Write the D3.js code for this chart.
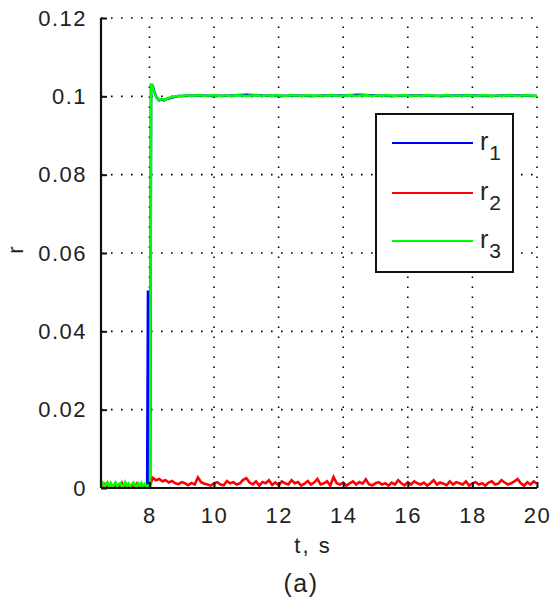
<!DOCTYPE html>
<html>
<head>
<meta charset="utf-8">
<script src="https://cdn.jsdelivr.net/npm/d3@7"></script>
<style>
  html, body { margin: 0; padding: 0; background: #fff; }
  svg { display: block; }
  text { font-family: "Liberation Sans", Arial, sans-serif; fill: #222; }
</style>
</head>
<body>
<svg id="chart" width="552" height="605"></svg>
<script>
// ---- data ----------------------------------------------------------
// axis ticks
const xTicks = [8, 10, 12, 14, 16, 18, 20];
const yTicks = [0, 0.02, 0.04, 0.06, 0.08, 0.1, 0.12];
const yTickLabels = ["0", "0.02", "0.04", "0.06", "0.08", "0.1", "0.12"];

// legend entries
const seriesNames = ["1", "2", "3"];
const seriesColors = ["#0000ff", "#ff0000", "#00ff00"];

// quiet segment, 6.5 s .. 7.9 s every 0.05 s (units of 1e-4)
const r1Quiet = [1,0,1,2,0,0,1,3,1,0,2,0,1,0,1,0,2,1,0,1,3,0,1,0,2,1,0,1,0];
const r2Quiet = [3,0,9,1,4,0,11,2,3,6,0,5,1,12,2,0,7,1,4,8,0,3,10,1,4,0,6,2,1];
const r3Quiet = [7,13,3,10,15,5,11,2,8,14,4,10,12,3,7,15,5,11,4,9,14,6,3,12,5,13,4,10,6];

// step response around t = 8 s: [t, r]
const r1Step = [[7.93,0.0002],[7.955,0.0504],[7.975,0.0003],[8.02,0.0003],[8.05,0.1028],
  [8.10,0.1027],[8.15,0.1012],[8.22,0.0997],[8.30,0.0990],[8.38,0.0992],[8.46,0.0990],
  [8.55,0.0994],[8.65,0.0996],[8.80,0.0999],[8.90,0.1001]];
const r3Step = [[7.95,0.0006],[8.02,0.0004],[8.05,0.1030],[8.08,0.1030],[8.12,0.1018],
  [8.18,0.1003],[8.25,0.0994],[8.32,0.0991],[8.40,0.0993],[8.48,0.0991],[8.56,0.0995],
  [8.64,0.0997],[8.75,0.0999],[8.90,0.1001]];

// r2 from 8.0 s to 20.0 s every 0.1 s (units of 1e-4)
const r2Tail = [3,26,20,23,17,20,14,18,12,10,
  15,12,7,13,9,27,15,11,9,6,
  12,15,9,7,18,12,15,9,12,21,
  25,14,9,17,6,15,12,20,8,14,
  7,17,12,9,20,12,15,6,11,18,
  9,14,23,9,12,17,6,28,12,9,
  14,6,12,17,9,15,11,22,9,7,
  12,15,9,12,6,14,9,20,12,7,
  15,9,17,12,9,14,6,12,20,9,
  14,11,7,17,9,15,12,9,17,6,
  12,15,9,12,6,14,17,9,11,20,
  14,9,12,17,23,12,6,15,9,17,11];

// r3 settled, 9.0 s .. 20.0 s every 0.1 s (units of 1e-4)
const r3Tail = [1001,1002,1002,1001,1002,1003,1002,1001,1002,1002,
  1003,1002,1001,1002,1002,1001,1002,1003,1002,1002,
  1001,1002,1002,1003,1002,1001,1002,1002,1001,1003,
  1002,1002,1001,1002,1003,1002,1002,1001,1002,1002,
  1003,1001,1002,1002,1001,1002,1003,1002,1002,1001,
  1002,1002,1003,1002,1001,1002,1002,1003,1002,1001,
  1002,1002,1001,1003,1002,1002,1001,1002,1002,1003,
  1002,1001,1002,1002,1001,1002,1003,1002,1002,1001,
  1002,1002,1003,1002,1001,1002,1002,1001,1003,1002,
  1002,1001,1002,1002,1003,1002,1001,1002,1002,1001,
  1002,1003,1002,1002,1001,1002,1002,1003,1002,1001,1002];

// r1 settled, 9.0 s .. 20.0 s every 0.5 s (units of 1e-4)
const r1Tail = [1001,1002,1001,1002,1004,1002,1001,1002,1001,1002,1002,1004,
  1002,1001,1002,1002,1001,1002,1002,1001,1002,1002,1001];

// ---- assemble series --------------------------------------------------
const S = 1e-4;
const quietT = i => 6.5 + i * 0.05;
const r1 = r1Quiet.map((v, i) => [quietT(i), v * S])
  .concat(r1Step)
  .concat(r1Tail.map((v, i) => [9 + i * 0.5, v * S]));
const r2 = r2Quiet.map((v, i) => [quietT(i), v * S])
  .concat(r2Tail.map((v, i) => [8 + i * 0.1, v * S]));
const r3 = r3Quiet.map((v, i) => [quietT(i), v * S])
  .concat(r3Step)
  .concat(r3Tail.map((v, i) => [9 + i * 0.1, v * S]));
const series = [r1, r2, r3];

// ---- layout -------------------------------------------------------------
const svg = d3.select("#chart");
const plot = { left: 101, right: 537, top: 18, bottom: 488 };

const x = d3.scaleLinear().domain([6.5, 20]).range([plot.left, plot.right]);
const y = d3.scaleLinear().domain([0, 0.12]).range([plot.bottom, plot.top]);

svg.append("rect").attr("width", 552).attr("height", 605).attr("fill", "#fff");

// dotted grid
const grid = svg.append("g")
  .attr("stroke", "#000")
  .attr("stroke-width", 1.6)
  .attr("stroke-dasharray", "1.6,8.4");
grid.selectAll(".gx").data(xTicks).join("line")
  .attr("x1", d => x(d)).attr("x2", d => x(d))
  .attr("y1", plot.bottom).attr("y2", plot.top);
grid.selectAll(".gy").data(yTicks.slice(1)).join("line")
  .attr("x1", plot.left).attr("x2", plot.right)
  .attr("y1", d => y(d)).attr("y2", d => y(d));

// clip for data traces
svg.append("clipPath").attr("id", "clip").append("rect")
  .attr("x", plot.left).attr("y", plot.top - 2)
  .attr("width", plot.right - plot.left + 2).attr("height", plot.bottom - plot.top + 2);

const line = d3.line().x(d => x(d[0])).y(d => y(d[1]));
svg.append("g").attr("clip-path", "url(#clip)")
  .selectAll("path").data(series).join("path")
  .attr("d", line)
  .attr("fill", "none")
  .attr("stroke", (d, i) => seriesColors[i])
  .attr("stroke-width", 2.6)
  .attr("stroke-linejoin", "miter");

// axes: ticks point inward
const xAxis = d3.axisBottom(x).tickValues(xTicks).tickSize(-6).tickPadding(19)
  .tickFormat(d3.format("d"));
const yAxis = d3.axisLeft(y).tickValues(yTicks).tickSize(-6).tickPadding(14)
  .tickFormat((d, i) => yTickLabels[i]);

const gx = svg.append("g").attr("transform", `translate(0,${plot.bottom})`).call(xAxis);
const gy = svg.append("g").attr("transform", `translate(${plot.left},0)`).call(yAxis);
[gx, gy].forEach(g => {
  g.select(".domain").attr("stroke", "#111").attr("stroke-width", 2.2);
  g.selectAll(".tick line").attr("stroke", "#111").attr("stroke-width", 2);
  g.selectAll(".tick text")
    .attr("font-family", "Liberation Sans, Arial, sans-serif")
    .attr("font-size", 22).attr("letter-spacing", 1.5).attr("fill", "#222");
});
gx.select(".domain").attr("d", `M${plot.left},0H${plot.right}`);
gy.select(".domain").attr("d", `M0,${plot.bottom}V${plot.top}`);

// axis titles
svg.append("text").attr("x", 313).attr("y", 553)
  .attr("text-anchor", "middle").attr("font-size", 22).attr("letter-spacing", 2)
  .text("t, s");
svg.append("text").attr("transform", "translate(23,250) rotate(-90)")
  .attr("text-anchor", "middle").attr("font-size", 22)
  .text("r");
svg.append("text").attr("x", 301).attr("y", 592)
  .attr("text-anchor", "middle").attr("font-size", 25).attr("letter-spacing", 1.5)
  .text("(a)");

// legend
const legend = svg.append("g");
legend.append("rect")
  .attr("x", 376).attr("y", 114).attr("width", 137).attr("height", 158)
  .attr("fill", "#fff").attr("stroke", "#111").attr("stroke-width", 2);
const rowY = [143, 193, 241];
seriesNames.forEach((name, i) => {
  legend.append("line")
    .attr("x1", 392).attr("x2", 473).attr("y1", rowY[i]).attr("y2", rowY[i])
    .attr("stroke", seriesColors[i]).attr("stroke-width", 2);
  const t = legend.append("text").attr("x", 480).attr("y", rowY[i] + 7)
    .attr("font-size", 25);
  t.append("tspan").text("r");
  t.append("tspan").attr("dy", 10).attr("font-size", 21).attr("dx", 1).text(name);
});
</script>
</body>
</html>
